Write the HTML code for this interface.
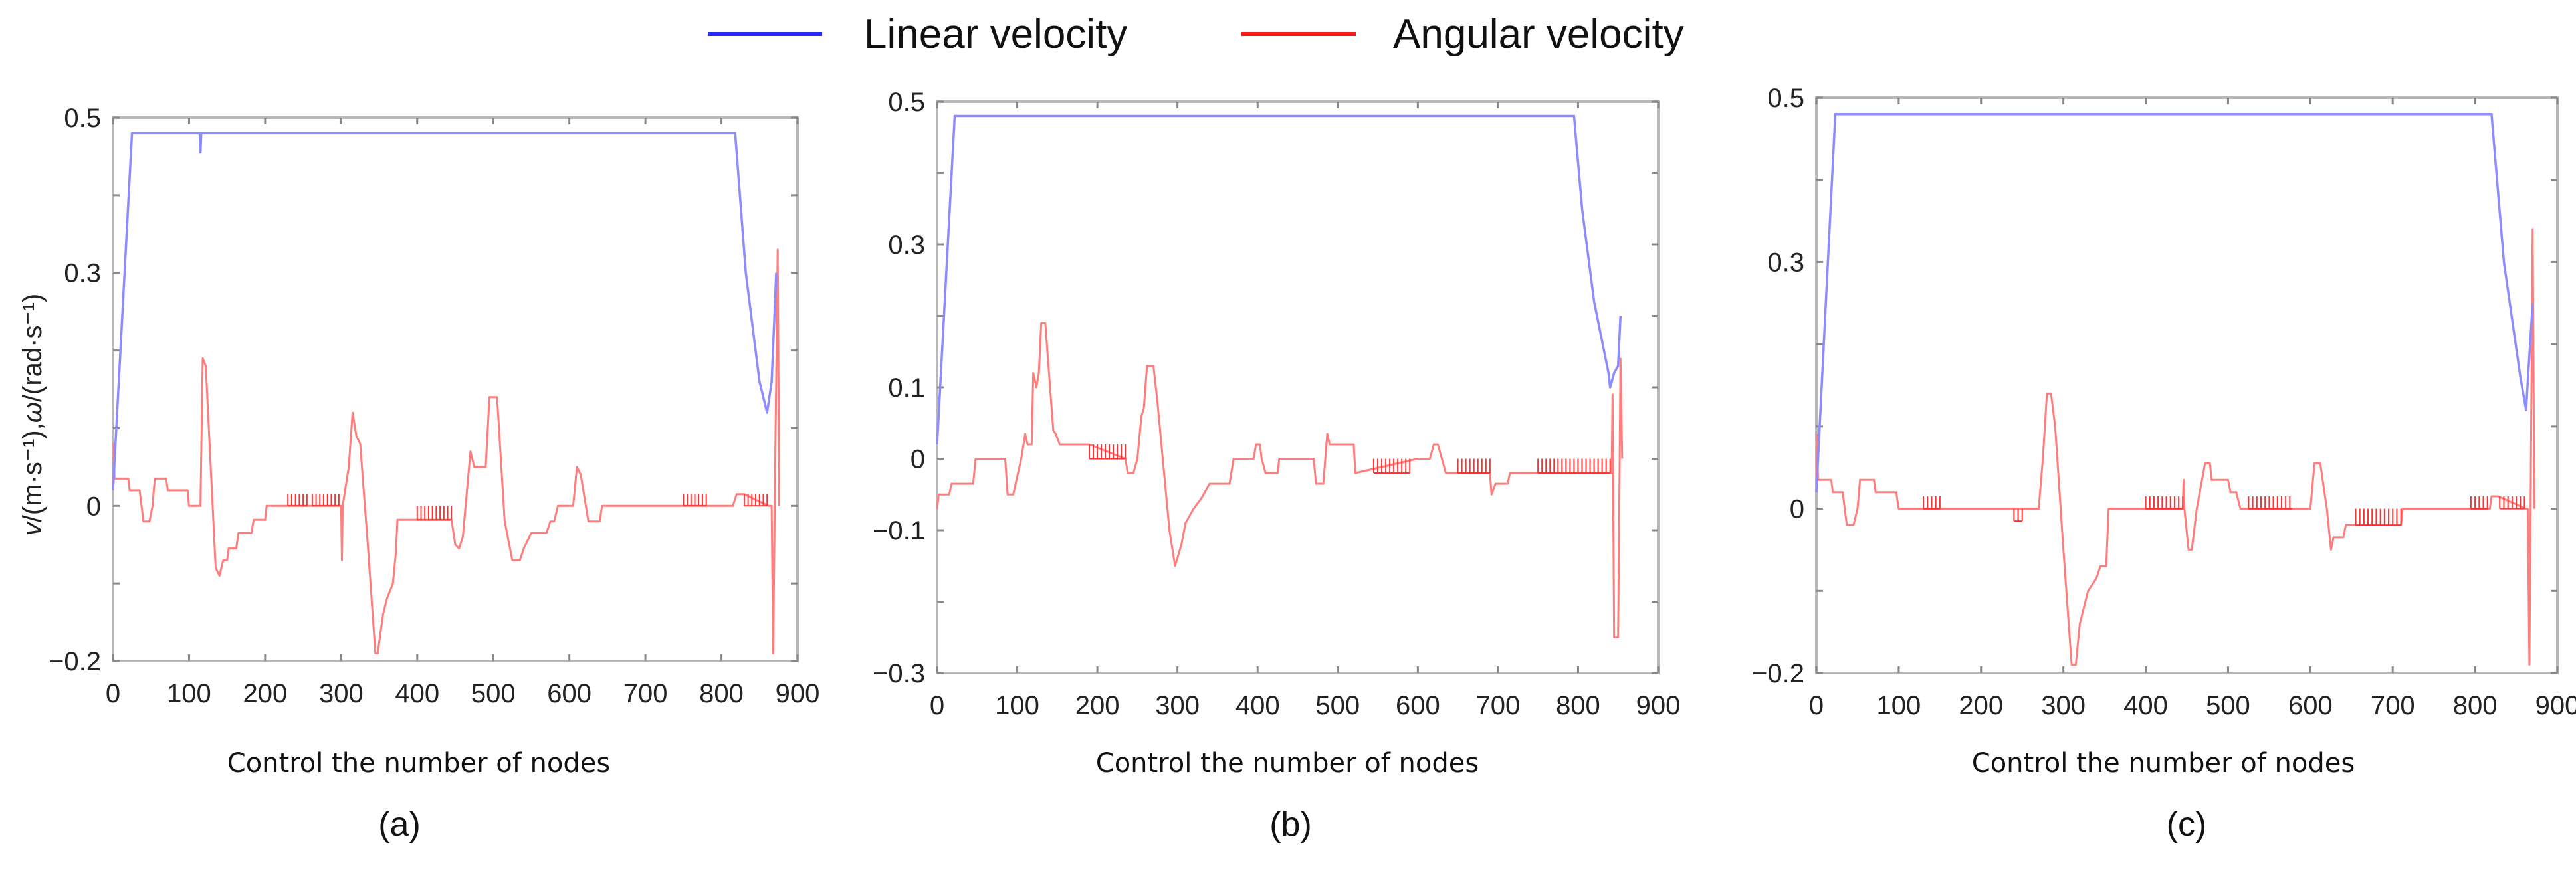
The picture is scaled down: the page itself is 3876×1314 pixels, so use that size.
<!DOCTYPE html>
<html><head><meta charset="utf-8">
<style>
html,body{margin:0;padding:0;background:#fff;}
svg{display:block;font-family:"Liberation Sans",sans-serif;}
</style></head>
<body>
<svg id="chart" width="3876" height="1314" viewBox="0 0 3876 1314" xmlns="http://www.w3.org/2000/svg">
<g>
 <line x1="1065" y1="51" x2="1237" y2="51" stroke="#2a2aff" stroke-width="6"/>
 <text x="1300" y="72" font-size="62" fill="#111">Linear velocity</text>
 <line x1="1868" y1="51" x2="2040" y2="51" stroke="#ff1a1a" stroke-width="6"/>
 <text x="2096" y="72" font-size="62" fill="#111">Angular velocity</text>
</g>
<text transform="translate(62,624) rotate(-90)" text-anchor="middle" font-size="40" fill="#222"><tspan font-style="italic">v</tspan>/(m·s⁻¹),<tspan font-style="italic">ω</tspan>/(rad·s⁻¹)</text>
</svg>
<script>
// ---------- data ----------
const xTicks = [0,100,200,300,400,500,600,700,800,900];
const yTicksA = [0.5,0.3,0,-0.2];
const yTicksB = [0.5,0.3,0.1,0,-0.1,-0.3];
const yTicksC = [0.5,0.3,0,-0.2];

const linearA = [[0,0.02],[25,0.48],[114,0.48],[115,0.455],[116,0.48],[818,0.48],[832,0.3],[850,0.16],[860,0.12],[866,0.16],[872,0.3]];
const angularA = [[0,0.02],[1,0.08],[2,0.035],[20,0.035],[22,0.02],[35,0.02],[40,-0.02],[48,-0.02],[52,0],[55,0.035],[70,0.035],[72,0.02],[98,0.02],[100,0],[115,0],[118,0.19],[122,0.18],[135,-0.08],[140,-0.09],[145,-0.07],[150,-0.07],[152,-0.055],[162,-0.055],[165,-0.035],[182,-0.035],[185,-0.018],[200,-0.018],[202,0],[300,0],[301,-0.07],[302,0],[310,0.05],[315,0.12],[320,0.09],[325,0.08],[335,-0.05],[345,-0.19],[348,-0.19],[355,-0.14],[360,-0.12],[368,-0.1],[372,-0.06],[374,-0.018],[445,-0.018],[450,-0.05],[455,-0.055],[460,-0.04],[470,0.07],[475,0.05],[490,0.05],[495,0.14],[505,0.14],[515,-0.02],[525,-0.07],[535,-0.07],[540,-0.055],[550,-0.035],[570,-0.035],[575,-0.02],[580,-0.02],[585,0],[605,0],[610,0.05],[615,0.04],[625,-0.02],[640,-0.02],[643,0],[815,0],[820,0.015],[830,0.015],[862,0],[866,0],[868,-0.19],[870,0],[874,0.33],[876,0]];
const chatterA = [[230,255,0,0.015],[262,298,0,0.015],[400,445,-0.018,0],[750,780,0,0.015],[830,860,0,0.015]];

const linearB = [[0,0.02],[22,0.48],[795,0.48],[805,0.35],[820,0.22],[838,0.12],[840,0.1],[845,0.12],[850,0.13],[853,0.2]];
const angularB = [[0,-0.07],[2,-0.05],[15,-0.05],[18,-0.035],[45,-0.035],[48,0],[85,0],[88,-0.05],[95,-0.05],[105,0],[110,0.035],[113,0.02],[118,0.02],[120,0.12],[124,0.1],[127,0.12],[130,0.19],[135,0.19],[145,0.04],[148,0.035],[153,0.02],[190,0.02],[235,0],[238,-0.02],[245,-0.02],[250,0],[255,0.06],[258,0.07],[262,0.13],[270,0.13],[275,0.08],[290,-0.1],[297,-0.15],[305,-0.12],[310,-0.09],[320,-0.07],[330,-0.055],[340,-0.035],[365,-0.035],[370,0],[395,0],[398,0.02],[403,0.02],[405,0],[410,-0.02],[425,-0.02],[427,0],[470,0],[473,-0.035],[482,-0.035],[487,0.035],[490,0.02],[520,0.02],[522,-0.02],[600,0],[615,0],[620,0.02],[625,0.02],[630,0],[635,-0.02],[690,-0.02],[692,-0.05],[697,-0.035],[712,-0.035],[715,-0.02],[842,-0.02],[843,0.09],[845,-0.25],[850,-0.25],[852,0],[853,0.14],[855,0]];
const chatterB = [[190,235,0,0.02],[545,590,-0.02,0],[650,690,-0.02,0],[750,840,-0.02,0]];

const linearC = [[0,0.02],[23,0.48],[820,0.48],[835,0.3],[855,0.16],[862,0.12],[865,0.17],[870,0.25]];
const angularC = [[0,0.02],[1,0.09],[2,0.035],[18,0.035],[20,0.02],[32,0.02],[37,-0.02],[45,-0.02],[50,0],[53,0.035],[70,0.035],[72,0.02],[97,0.02],[100,0],[270,0],[275,0.06],[280,0.14],[285,0.14],[290,0.1],[300,-0.05],[310,-0.19],[315,-0.19],[320,-0.14],[330,-0.1],[340,-0.085],[345,-0.07],[352,-0.07],[355,0],[445,0],[446,0.035],[447,0],[452,-0.05],[456,-0.05],[462,0],[472,0.055],[478,0.055],[480,0.035],[500,0.035],[503,0.02],[510,0.02],[515,0],[600,0],[605,0.055],[612,0.055],[620,0],[625,-0.05],[628,-0.035],[640,-0.035],[643,-0.02],[710,-0.02],[712,0],[818,0],[820,0.015],[828,0.015],[862,0],[864,0],[866,-0.19],[870,0.34],[872,0]];
const chatterC = [[130,150,0,0.015],[240,250,-0.015,0],[400,445,0,0.015],[525,578,0,0.015],[655,710,-0.02,0],[795,815,0,0.015],[830,860,0,0.015]];

// ---------- drawing ----------
const NS = "http://www.w3.org/2000/svg";
const svg = document.getElementById('chart');
function mk(tag, attrs, parent){
  const e = document.createElementNS(NS, tag);
  for (const k in attrs) e.setAttribute(k, attrs[k]);
  parent.appendChild(e);
  return e;
}
function drawPanel(id, box, yMin, yMax, yTicks, linear, angular, chatter, label, titleX, capX){
  const g = mk('g', {}, svg);
  
  
  const sx = v => box.x0 + (v - 0) / 900 * (box.x1 - box.x0);
  const sy = v => box.y1 - (v - yMin) / (yMax - yMin) * (box.y1 - box.y0);
  const frame = mk('rect', {x:box.x0, y:box.y0, width:box.x1-box.x0, height:box.y1-box.y0, fill:'none', stroke:'#b8b8b8', 'stroke-width':4}, g);
  
  
  xTicks.forEach(t => {
    const x = sx(t);
    mk('line', {x1:x, x2:x, y1:box.y1, y2:box.y1-10, stroke:'#888', 'stroke-width':3}, g);
    mk('line', {x1:x, x2:x, y1:box.y0, y2:box.y0+10, stroke:'#888', 'stroke-width':3}, g);
    const tx = mk('text', {x:x, y:box.y1+62, 'text-anchor':'middle', 'font-size':40, fill:'#222'}, g);
    
    
    tx.textContent = t;
  });
  for (let v = Math.round(yMin*10); v <= Math.round(yMax*10); v++) {
    const y = sy(v/10);
    mk('line', {x1:box.x0, x2:box.x0+10, y1:y, y2:y, stroke:'#888', 'stroke-width':3}, g);
    mk('line', {x1:box.x1, x2:box.x1-10, y1:y, y2:y, stroke:'#888', 'stroke-width':3}, g);
  }
  yTicks.forEach(t => {
    const ty = mk('text', {x:box.x0-18, y:sy(t)+14, 'text-anchor':'end', 'font-size':40, fill:'#222'}, g);
    
    
    ty.textContent = t < 0 ? '\u2212' + String(-t) : String(t);
  });
  const pts = arr => arr.map(p => sx(p[0]).toFixed(1) + ',' + sy(p[1]).toFixed(1)).join(' ');
  const red = mk('polyline', {points:pts(angular), fill:'none', stroke:'#ff7d7d', 'stroke-width':3, 'stroke-linejoin':'round'}, g);
  
  
  let d = '';
  chatter.forEach(c => {
    d += 'M' + sx(c[0]) + ',' + sy(c[2]) + 'H' + sx(c[1]) + ' ';
    for (let x = c[0]; x <= c[1]; x += 5) {
      d += 'M' + sx(x) + ',' + sy(c[2]) + 'V' + sy(c[3]) + ' ';
    }
  });
  const ch = mk('path', {d:d, fill:'none', stroke:'#ff3030', 'stroke-width':2}, g);
  
  
  const blue = mk('polyline', {points:pts(linear), fill:'none', stroke:'#8c8cff', 'stroke-width':3.5, 'stroke-linejoin':'round'}, g);
  
  
  const xt = mk('text', {x:titleX, y:1162, 'text-anchor':'middle', 'font-size':40, fill:'#111', 'font-family':'DejaVu Sans, sans-serif'}, g);
  
  
  xt.textContent = 'Control the number of nodes';
  const cp = mk('text', {x:capX, y:1258, 'text-anchor':'middle', 'font-size':52, fill:'#111'}, g);
  
  
  cp.textContent = label;
}
drawPanel('a', {x0:170, x1:1200, y0:177, y1:995}, -0.2, 0.5, yTicksA, linearA, angularA, chatterA, '(a)', 630, 601);
drawPanel('b', {x0:1410, x1:2495, y0:153, y1:1013}, -0.3, 0.5, yTicksB, linearB, angularB, chatterB, '(b)', 1937, 1942);
drawPanel('c', {x0:2733, x1:3848, y0:147, y1:1013}, -0.2, 0.5, yTicksC, linearC, angularC, chatterC, '(c)', 3255, 3290);
</script>
</body></html>
